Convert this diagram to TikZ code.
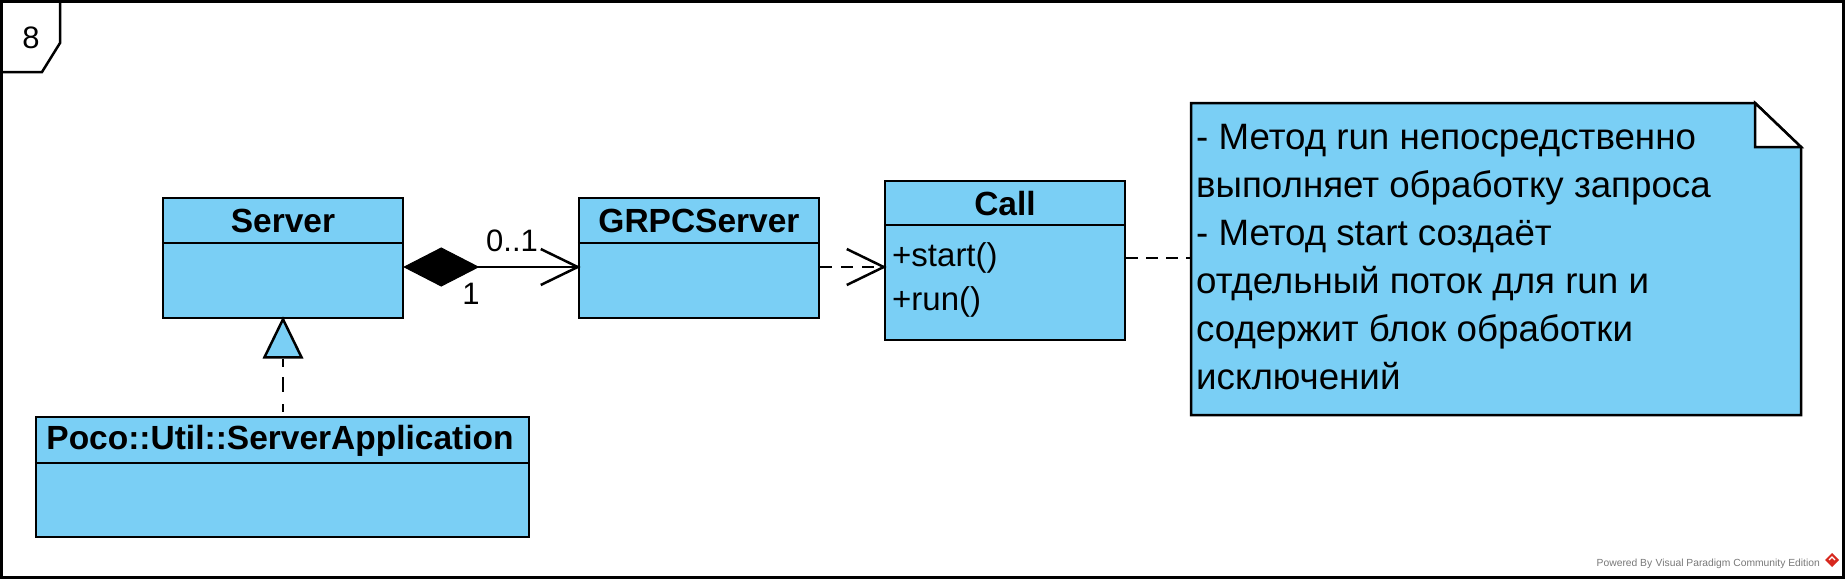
\documentclass[tikz,border=0pt]{standalone}
\usepackage{fontspec}
\setmainfont{Liberation Sans}
\usetikzlibrary{calc}
\definecolor{vpblue}{RGB}{122,207,245}
\definecolor{wmgray}{RGB}{120,120,120}
\definecolor{wmred}{RGB}{215,40,30}
\tikzset{
  classbox/.style={draw=black, fill=vpblue, line width=2.5pt, inner sep=0pt},
  ttl/.style={font=\fontsize{33.5}{33.5}\selectfont\bfseries, inner sep=0pt},
  attr/.style={font=\fontsize{33}{33}\selectfont, inner sep=0pt, anchor=west},
  notetxt/.style={font=\fontsize{36.7}{36.7}\selectfont, inner sep=0pt, anchor=base west},
  lbl/.style={font=\fontsize{31}{31}\selectfont, inner sep=0pt},
  conn/.style={line width=2.5pt, line join=miter},
  dashedconn/.style={line width=2.5pt, dash pattern=on 12pt off 9pt},
}
\begin{document}
\begin{tikzpicture}[x=1pt,y=-1pt]
\useasboundingbox (0,0) rectangle (1845,579);
\fill[white] (0,0) rectangle (1845,579);
% frame
\draw[line width=3pt] (1.5,1.5) rectangle (1843.5,577.5);
\draw[line width=2.5pt] (60,1.5) -- (60,43) -- (42,72) -- (1.5,72);
\node[lbl] (tabnum) at (31,38) {8};

% classes
\node[classbox, minimum width=240pt, minimum height=120pt] (server) at (283,258) {};
\draw[line width=2.5pt] (server.west |- 0,243) -- (server.east |- 0,243);
\node[ttl] (serverT) at (283,221) {Server};

\node[classbox, minimum width=240pt, minimum height=120pt] (grpc) at (699,258) {};
\draw[line width=2.5pt] (grpc.west |- 0,243) -- (grpc.east |- 0,243);
\node[ttl] (grpcT) at (699,221) {GRPCServer};

\node[classbox, minimum width=240pt, minimum height=159pt] (call) at (1005,260.5) {};
\draw[line width=2.5pt] (call.west |- 0,225) -- (call.east |- 0,225);
\node[ttl] (callT) at (1005,203.5) {Call};
\node[attr] (callA1) at (892,258) {+start()};
\node[attr] (callA2) at (892,302) {+run()};

\node[classbox, minimum width=493pt, minimum height=120pt] (poco) at (282.5,477) {};
\draw[line width=2.5pt] (poco.west |- 0,463) -- (poco.east |- 0,463);
\node[ttl] (pocoT) at (280,441) {Poco::Util::ServerApplication};

% note
\draw[line width=2.5pt, fill=vpblue, line join=miter] (1191,103) -- (1755,103) -- (1801,147) -- (1801,415) -- (1191,415) -- cycle;
\draw[line width=2.5pt, fill=white, line join=miter] (1755,103) -- (1801,147) -- (1755,147) -- cycle;
\node[inner sep=0pt, minimum width=610pt, minimum height=312pt] (note) at (1496,259) {};
\node[notetxt] (l1) at (1196,149) {- Метод run непосредственно};
\node[notetxt] (l2) at (1196,197) {выполняет обработку запроса};
\node[notetxt] (l3) at (1196,245) {- Метод start создаёт};
\node[notetxt] (l4) at (1196,293) {отдельный поток для run и};
\node[notetxt] (l5) at (1196,341) {содержит блок обработки};
\node[notetxt] (l6) at (1196,389) {исключений};

% composition Server -> GRPCServer
\coordinate (ly) at (0,267);
\coordinate (cs) at (server.east |- ly);
\coordinate (ce) at (grpc.west |- ly);
\draw[conn] ([xshift=74pt]cs) -- (ce);
\fill[draw, line width=1pt] (cs) -- ([xshift=37pt,yshift=19pt]cs) -- ([xshift=74pt]cs) -- ([xshift=37pt,yshift=-19pt]cs) -- cycle;
\draw[conn] ([xshift=-37pt,yshift=18pt]ce) -- (ce) -- ([xshift=-37pt,yshift=-18pt]ce);
\node[lbl] (m1) at (512,241) {0..1};
\node[lbl] (m2) at (471,294) {1};

% dependency GRPCServer -> Call
\coordinate (ds) at (grpc.east |- ly);
\coordinate (de) at (call.west |- ly);
\draw[dashedconn] (ds) -- (de);
\draw[conn] ([xshift=-37pt,yshift=18pt]de) -- (de) -- ([xshift=-37pt,yshift=-18pt]de);

% note link
\coordinate (ny) at (0,258);
\draw[dashedconn, dash pattern=on 12pt off 8pt] (call.east |- ny) -- (note.west |- ny);

% generalization Poco -> Server
\coordinate (gt) at (server.south);
\draw[line width=2.5pt, fill=vpblue, line join=miter] (gt) -- ([xshift=18.5pt,yshift=-38pt]gt) -- ([xshift=-18.5pt,yshift=-38pt]gt) -- cycle;
\draw[dashedconn, dash pattern=on 8pt off 10pt on 15pt off 12pt] ([yshift=-40pt]gt) -- (poco.north -| gt);

% watermark
\node[font=\fontsize{10.3}{10.3}\selectfont, text=wmgray, anchor=base east, inner sep=0pt] (wm) at (1820,566) {Powered By\,\,Visual Paradigm Community Edition};
\fill[wmred] (1832,553) -- (1839,560) -- (1832,567) -- (1825,560) -- cycle;
\draw[white, line width=1.2pt] (1829,560) -- (1832,557) -- (1835,560);
\end{tikzpicture}
\end{document}
